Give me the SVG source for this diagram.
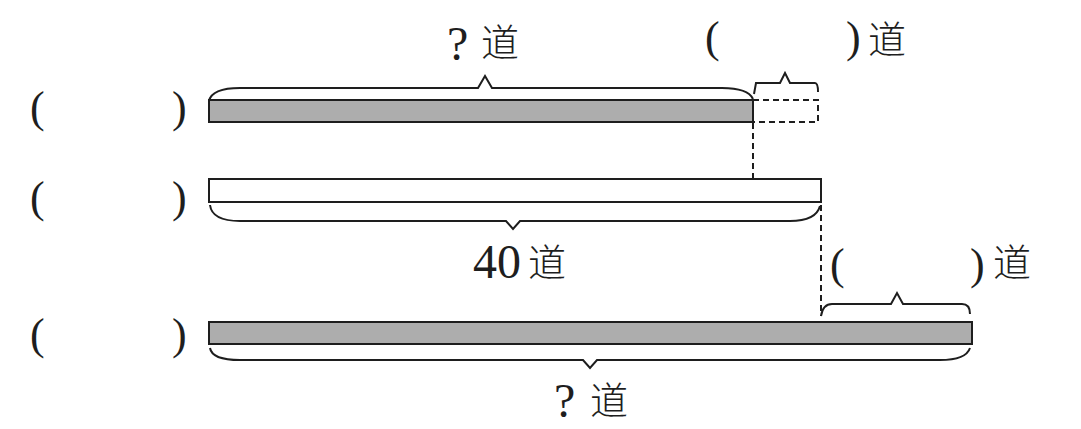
<svg xmlns="http://www.w3.org/2000/svg" width="1081" height="429" viewBox="0 0 1081 429">
<style>
.bar{stroke:#1e1e1e;stroke-width:2}
.gray{fill:#adadad}
.white{fill:#ffffff}
.brace{fill:none;stroke:#1e1e1e;stroke-width:2;stroke-linejoin:miter}
.dash{fill:none;stroke:#1e1e1e;stroke-width:2;stroke-dasharray:6 4}
.t{font-family:"Liberation Serif","Times New Roman",serif;font-size:44px;fill:#1e1e1e}
.n{font-family:"Liberation Serif","Times New Roman",serif;font-size:48px;fill:#1e1e1e}
.c{font-family:"Noto Sans CJK SC","Noto Sans CJK TC",sans-serif;font-size:38px;fill:#1e1e1e;font-weight:300}
</style>
<rect width="1081" height="429" fill="#ffffff"/>
<g id="labels-left">
<text class="t" x="30" y="122">(</text><text class="t" x="172" y="122">)</text>
<text class="t" x="30" y="212">(</text><text class="t" x="172" y="212">)</text>
<text class="t" x="30" y="349">(</text><text class="t" x="172" y="349">)</text>
</g>
<g id="bar1">
<rect class="bar gray" x="209" y="100" width="544" height="22"/>
<rect class="dash" x="753" y="100" width="65" height="22"/>
<line class="bar" x1="753" y1="100" x2="753" y2="122"/>
</g>
<g id="bar2">
<rect class="bar white" x="209" y="179" width="612" height="23"/>
</g>
<g id="bar3">
<rect class="bar gray" x="209" y="322" width="763" height="22"/>
</g>
<g id="braces">
<path class="brace" d="M209,101 Q212,88 240,88 L478,88 L485,76 L492,88 L722,88 Q748,88 753,99"/>
<path class="brace" d="M754,94 L756,83 L780,83 L785,73 L790,83 L815,83 Q818,83 818,92"/>
<path class="brace" d="M210,205 Q212,221 240,221 L506,221 L513,229 L520,221 L790,221 Q816,221 820,206"/>
<path class="brace" d="M821,316 Q823,304 832,304 L891,304 L897,293 L903,304 L962,304 Q970,304 970,314"/>
<path class="brace" d="M210,348 Q212,360 240,360 L583,360 L590,368 L597,360 L940,360 Q966,360 970,348"/>
</g>
<g id="connectors">
<line class="dash" x1="753" y1="123" x2="753" y2="179"/>
<line class="dash" x1="821" y1="205" x2="821" y2="316"/>
</g>
<g id="label-top">
<text class="n" x="447" y="60">?</text><text class="c" x="481" y="56">道</text>
</g>
<g id="label-top-right">
<text class="t" x="705" y="52">(</text><text class="t" x="846" y="52">)</text><text class="c" x="868" y="53">道</text>
</g>
<g id="label-40">
<text class="n" x="473" y="278">40</text><text class="c" x="528" y="276">道</text>
</g>
<g id="label-mid-right">
<text class="t" x="830" y="279">(</text><text class="t" x="970" y="279">)</text><text class="c" x="993" y="276">道</text>
</g>
<g id="label-bottom">
<text class="n" x="554" y="417">?</text><text class="c" x="590" y="414">道</text>
</g>
</svg>
